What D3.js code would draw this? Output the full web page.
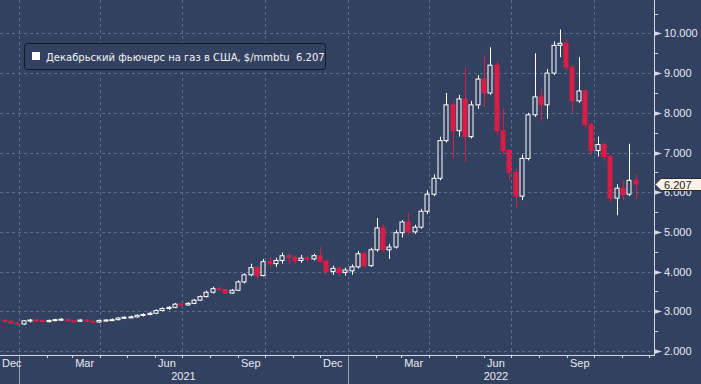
<!DOCTYPE html>
<html>
<head>
<meta charset="utf-8">
<script src="https://cdn.jsdelivr.net/npm/d3@7"></script>
<style>
	html, body { margin: 0; padding: 0; background: #334161; }
	svg { display: block; }
</style>
</head>
<body>
<svg id="chart" width="701" height="384"></svg>
<script>

// weekly candles, first Monday to last Monday
var firstWeek = new Date(2020, 11, 7);
var lastWeek = new Date(2022, 10, 14);

var opens = [2.80,2.77,2.75,2.70,2.68,2.76,2.78,2.77,2.74,2.77,2.79,2.80,2.76,2.75,2.78,2.75,2.73,2.77,2.78,2.79,
	2.83,2.85,2.86,2.90,2.92,2.95,3.02,3.07,3.10,3.18,3.16,3.20,3.28,3.37,3.48,3.57,3.55,3.46,3.53,3.74,
	3.92,4.10,3.90,4.25,4.20,4.28,4.40,4.36,4.28,4.34,4.32,4.40,4.26,4.00,4.08,3.98,4.02,4.12,4.45,4.15,
	4.55,5.10,4.55,4.62,4.98,5.25,5.00,5.12,5.52,5.95,6.35,7.30,8.20,7.55,8.35,7.40,8.20,8.85,8.50,9.20,
	7.55,7.05,6.50,5.90,6.85,7.95,8.40,8.20,9.00,9.70,9.75,9.15,8.30,8.55,7.70,7.05,7.20,6.90,5.85,6.10,
	5.95,6.30];
var highs = [2.84,2.80,2.78,2.74,2.78,2.81,2.81,2.79,2.79,2.81,2.83,2.82,2.78,2.80,2.80,2.77,2.79,2.80,2.82,2.85,
	2.87,2.89,2.92,2.95,2.98,3.05,3.10,3.13,3.21,3.22,3.23,3.31,3.40,3.52,3.62,3.62,3.57,3.56,3.78,3.96,
	4.20,4.14,4.32,4.38,4.35,4.48,4.45,4.40,4.42,4.40,4.45,4.62,4.30,4.15,4.14,4.10,4.18,4.52,4.50,4.60,
	5.35,5.20,4.70,5.05,5.30,5.48,5.18,5.58,6.05,6.45,7.40,8.50,8.30,8.45,9.15,8.30,8.95,9.45,9.65,9.30,
	8.10,7.10,6.60,6.95,8.00,9.50,8.60,9.10,9.80,10.10,9.85,9.20,9.40,8.60,7.75,7.40,7.25,6.95,6.20,6.30,
	7.22,6.45];
var lows = [2.74,2.72,2.68,2.64,2.66,2.72,2.74,2.72,2.72,2.75,2.77,2.74,2.72,2.73,2.73,2.70,2.71,2.75,2.76,2.77,
	2.81,2.83,2.84,2.87,2.90,2.93,3.00,3.04,3.08,3.13,3.14,3.18,3.26,3.35,3.45,3.52,3.44,3.44,3.51,3.70,
	3.88,3.82,3.88,4.10,4.12,4.20,4.18,4.20,4.22,4.25,4.28,4.22,3.92,3.92,3.90,3.90,3.92,4.08,4.08,4.12,
	4.50,4.50,4.32,4.58,4.86,4.92,4.95,5.08,5.45,5.90,6.30,7.25,6.85,7.40,6.76,7.35,8.10,8.15,8.45,7.45,
	6.95,6.30,5.62,5.80,6.80,7.90,7.80,7.85,8.95,9.40,9.05,8.00,8.25,7.60,6.95,6.90,6.80,5.75,5.42,5.80,
	5.90,5.82];
var closes = [2.77,2.75,2.70,2.68,2.76,2.78,2.77,2.74,2.77,2.79,2.80,2.76,2.75,2.78,2.75,2.73,2.77,2.78,2.79,2.83,
	2.85,2.86,2.90,2.92,2.95,3.02,3.07,3.10,3.18,3.16,3.20,3.28,3.37,3.48,3.57,3.55,3.46,3.53,3.74,3.92,
	4.10,3.90,4.25,4.20,4.28,4.40,4.36,4.28,4.34,4.32,4.40,4.26,4.00,4.08,3.98,4.04,4.12,4.45,4.15,4.55,
	5.10,4.55,4.62,4.98,5.25,5.00,5.12,5.52,5.95,6.35,7.30,8.20,7.55,8.35,7.40,8.20,8.85,8.50,9.20,7.55,
	7.05,6.50,5.90,6.85,7.95,8.40,8.20,9.00,9.70,9.75,9.15,8.30,8.55,7.70,7.05,7.20,6.90,5.85,6.10,5.95,
	6.30,6.207];

var yTicks = [2, 3, 4, 5, 6, 7, 8, 9, 10];
var monthLabels = ["Dec", "Mar", "Jun", "Sep"];
var legendText = "Декабрьский фьючерс на газ в США, $/mmbtu  6.207";
var lastValue = 6.207;

var weeks = d3.timeMonday.range(firstWeek, d3.timeDay.offset(lastWeek, 1));
var candles = weeks.map(function(d, i) {
	return { date: d, o: opens[i], h: highs[i], l: lows[i], c: closes[i] };
});

var plotRight = 654, plotBottom = 355;
var bg = "#334161", grid = "#5b6c8d", axisCol = "#d4d8e0", red = "#d91d47";

var x = d3.scaleTime()
	.domain([new Date(2021, 0, 1), new Date(2022, 0, 1)])
	.range([19, 348]);
var y = d3.scaleLinear()
	.domain([2, 10])
	.range([351, 33.4]);

var svg = d3.select("#chart");
svg.append("rect").attr("width", 701).attr("height", 384).attr("fill", bg);

svg.append("clipPath").attr("id", "plot")
	.append("rect").attr("x", 0).attr("y", 0).attr("width", plotRight).attr("height", plotBottom);

// grid
var quarters = d3.timeMonth.range(new Date(2021, 0, 1), new Date(2022, 11, 1), 3);
svg.append("g").selectAll("line").data(quarters).enter().append("line")
	.attr("x1", function(d) { return Math.round(x(d)) + 0.5; })
	.attr("x2", function(d) { return Math.round(x(d)) + 0.5; })
	.attr("y1", 0).attr("y2", plotBottom)
	.attr("stroke", grid).attr("stroke-dasharray", "3,3");
svg.append("g").selectAll("line").data(yTicks).enter().append("line")
	.attr("x1", 0).attr("x2", plotRight)
	.attr("y1", function(d) { return Math.round(y(d)) + 0.5; })
	.attr("y2", function(d) { return Math.round(y(d)) + 0.5; })
	.attr("stroke", grid).attr("stroke-dasharray", "3,3");

// candles
var cw = 5;
var cg = svg.append("g").attr("clip-path", "url(#plot)");
var c = cg.selectAll("g").data(candles).enter().append("g");
c.append("line")
	.attr("x1", function(d) { return Math.round(x(d3.timeDay.offset(d.date, 2))) + 0.5; })
	.attr("x2", function(d) { return Math.round(x(d3.timeDay.offset(d.date, 2))) + 0.5; })
	.attr("y1", function(d) { return y(d.h); })
	.attr("y2", function(d) { return y(d.l); })
	.attr("stroke", function(d) { return d.c >= d.o ? "#ffffff" : red; });
c.append("rect")
	.attr("x", function(d) { return Math.round(x(d3.timeDay.offset(d.date, 2))) - 2; })
	.attr("width", cw - 1)
	.attr("y", function(d) { return y(Math.max(d.o, d.c)); })
	.attr("height", function(d) { return Math.max(1, Math.abs(y(d.o) - y(d.c))); })
	.attr("fill", function(d) { return d.c >= d.o ? bg : red; })
	.attr("stroke", function(d) { return d.c >= d.o ? "#ffffff" : red; });

// right axis
var ra = svg.append("g");
ra.append("line").attr("x1", plotRight + 0.5).attr("x2", plotRight + 0.5)
	.attr("y1", 0).attr("y2", plotBottom).attr("stroke", axisCol);
var minor = d3.range(2.5, 10.6, 1);
ra.selectAll(".minor").data(minor).enter().append("line")
	.attr("x1", plotRight).attr("x2", plotRight + 4)
	.attr("y1", function(d) { return Math.round(y(d)) + 0.5; })
	.attr("y2", function(d) { return Math.round(y(d)) + 0.5; })
	.attr("stroke", axisCol);
ra.selectAll(".arrow").data(yTicks).enter().append("path")
	.attr("d", function(d) {
		var yy = Math.round(y(d)) + 0.5;
		return "M" + plotRight + "," + (yy - 2.5) + "L" + (plotRight + 8) + "," + yy + "L" + plotRight + "," + (yy + 2.5) + "Z";
	})
	.attr("fill", axisCol);
ra.selectAll("text").data(yTicks).enter().append("text")
	.attr("x", 664)
	.attr("y", function(d) { return y(d) + 4; })
	.attr("fill", "#e8eaf0")
	.attr("font-family", "Liberation Sans, Arial, sans-serif")
	.attr("font-size", 11)
	.text(d3.format(".3f"));

// last value tag
var ty = Math.round(y(lastValue)) + 0.5;
svg.append("path")
	.attr("d", "M" + (plotRight + 1) + "," + ty + "L" + (plotRight + 7) + "," + (ty - 6) + "L702," + (ty - 6) + "L702," + (ty + 6) + "L" + (plotRight + 7) + "," + (ty + 6) + "Z")
	.attr("fill", "#fdf2e9").attr("stroke", "#2a2a2a");
svg.append("text")
	.attr("x", 664).attr("y", ty + 4)
	.attr("fill", "#1a1a1a")
	.attr("font-family", "Liberation Sans, Arial, sans-serif")
	.attr("font-size", 11)
	.text(d3.format(".3f")(lastValue));

// bottom axis
var xa = svg.append("g");
xa.append("line").attr("x1", 0).attr("x2", plotRight + 1)
	.attr("y1", plotBottom + 0.5).attr("y2", plotBottom + 0.5).attr("stroke", axisCol);
var months = d3.timeMonth.range(new Date(2020, 11, 1), new Date(2022, 11, 2));
xa.selectAll(".mt").data(months).enter().append("line")
	.attr("x1", function(d) { return Math.round(x(d)) + 0.5; })
	.attr("x2", function(d) { return Math.round(x(d)) + 0.5; })
	.attr("y1", plotBottom).attr("y2", plotBottom + 3)
	.attr("stroke", axisCol);
var years = [new Date(2021, 0, 1), new Date(2022, 0, 1)];
xa.selectAll(".yt").data(years).enter().append("line")
	.attr("x1", function(d) { return Math.round(x(d)) + 0.5; })
	.attr("x2", function(d) { return Math.round(x(d)) + 0.5; })
	.attr("y1", plotBottom).attr("y2", 384)
	.attr("stroke", "#9aa2b4");
var labelMonths = months.filter(function(d) {
	return monthLabels.indexOf(d3.timeFormat("%b")(d)) >= 0 && x(d) < plotRight - 30;
});
xa.selectAll(".ml").data(labelMonths).enter().append("text")
	.attr("x", function(d) { return Math.max(2, x(d) + 3); })
	.attr("y", 367)
	.attr("fill", "#e8eaf0")
	.attr("font-family", "Liberation Sans, Arial, sans-serif")
	.attr("font-size", 11)
	.text(d3.timeFormat("%b"));
xa.selectAll(".yl").data(years).enter().append("text")
	.attr("x", function(d) { return (x(d) + Math.min(plotRight - 10, x(d3.timeYear.offset(d, 1)))) / 2; })
	.attr("y", 380)
	.attr("text-anchor", "middle")
	.attr("fill", "#e8eaf0")
	.attr("font-family", "Liberation Sans, Arial, sans-serif")
	.attr("font-size", 11)
	.text(d3.timeFormat("%Y"));

// legend
var lg = svg.append("g");
lg.append("rect").attr("x", 24.5).attr("y", 43.5).attr("width", 301).attr("height", 26).attr("rx", 3)
	.attr("fill", bg).attr("stroke", "#121829");
lg.append("rect").attr("x", 32).attr("y", 52).attr("width", 8).attr("height", 8).attr("fill", "#ffffff");
lg.append("text")
	.attr("x", 46).attr("y", 61)
	.attr("fill", "#f2f2f2")
	.attr("font-family", "DejaVu Sans, Verdana, sans-serif")
	.attr("font-size", 10)
	.attr("xml:space", "preserve")
	.text(legendText);

</script>
</body>
</html>
